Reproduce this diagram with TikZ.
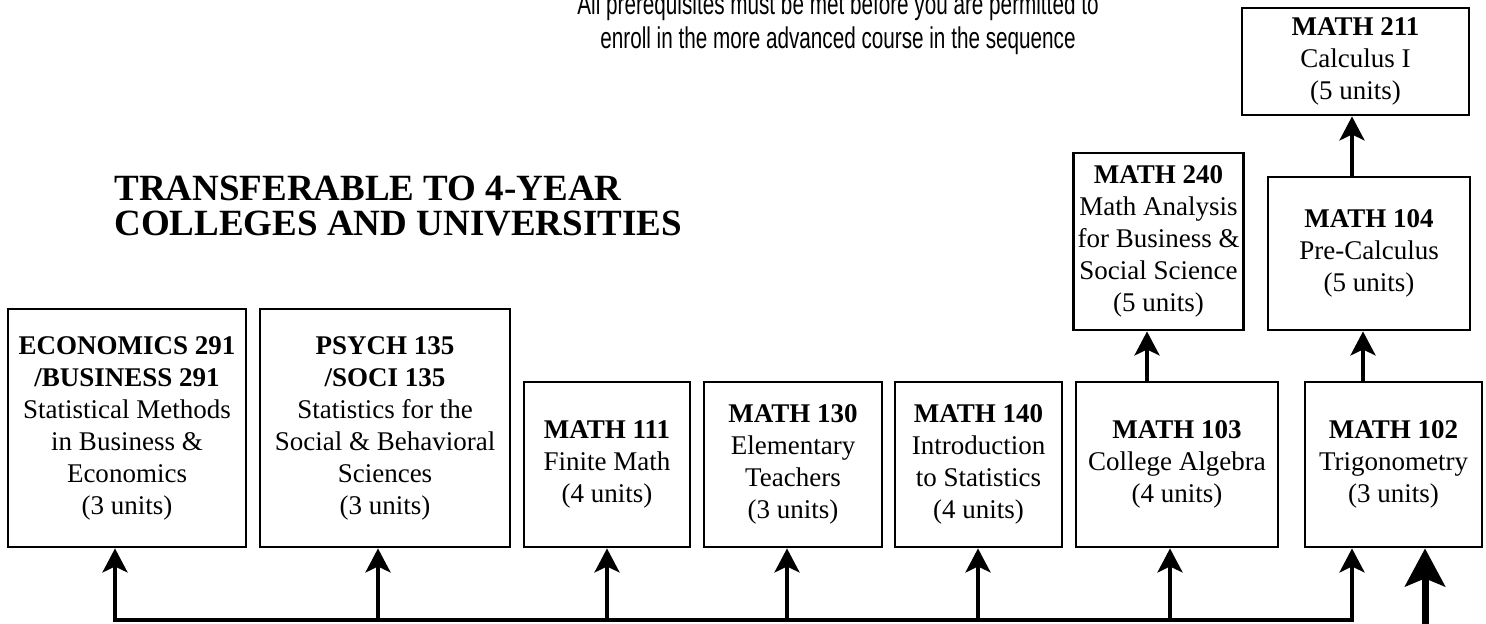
\documentclass[tikz,border=0pt]{standalone}
\usepackage{fontspec}
\setmainfont{Liberation Serif}
\newfontfamily\narrowsans[FakeStretch=0.69]{Liberation Sans}
\usetikzlibrary{positioning,arrows.meta,calc}

\begin{document}
\begin{tikzpicture}[x=0.5pt,y=-0.5pt,
  course/.style={draw,line width=1.4pt,align=center,inner sep=2pt,
    font=\fontsize{13.5}{16}\selectfont},
  up/.style={-{Stealth[length=12pt,width=12.5pt,inset=3pt]},line width=2pt},
  bigup/.style={-{Stealth[length=19pt,width=20pt,inset=4pt]},line width=3.5pt},
  bus/.style={line width=2pt,line cap=rect}]
  \useasboundingbox (0,0) rectangle (1486,623);

  % notes
  \node[anchor=south,align=center,inner sep=0pt,
    font=\narrowsans\fontsize{15}{17}\selectfont]
    (note) at (838,55) {All prerequisites must be met before you are permitted to\\
    enroll in the more advanced course in the sequence};
  \node[anchor=north west,align=left,inner sep=0pt,
    font=\fontsize{18.5}{17.5}\selectfont\bfseries]
    (title) at (114,176) {TRANSFERABLE TO 4-YEAR\\COLLEGES AND UNIVERSITIES};

  % bottom row
  \node[course,minimum width=119pt,minimum height=119pt] (econ) at (127,428)
    {\textbf{ECONOMICS 291}\\\textbf{/BUSINESS 291}\\Statistical Methods\\in Business \&\\Economics\\(3 units)};
  \node[course,minimum width=125pt,minimum height=119pt] (psych) at (385,428)
    {\textbf{PSYCH 135}\\\textbf{/SOCI 135}\\Statistics for the\\Social \& Behavioral\\Sciences\\(3 units)};
  \node[course,minimum width=83pt,minimum height=82.5pt] (m111) at (607,464.5)
    {\textbf{MATH 111}\\Finite Math\\(4 units)};
  \node[course,minimum width=89pt,minimum height=82.5pt] (m130) at (793,464.5)
    {\textbf{MATH 130}\\Elementary\\Teachers\\(3 units)};
  \node[course,minimum width=83.5pt,minimum height=82.5pt] (m140) at (978.5,464.5)
    {\textbf{MATH 140}\\Introduction\\to Statistics\\(4 units)};
  \node[course,minimum width=101pt,minimum height=82.5pt] (m103) at (1177,464.5)
    {\textbf{MATH 103}\\College Algebra\\(4 units)};
  \node[course,minimum width=88.5pt,minimum height=82.5pt] (m102) at (1393.5,464.5)
    {\textbf{MATH 102}\\Trigonometry\\(3 units)};

  % upper courses
  \node[course,minimum width=71.5pt,minimum height=88.5pt] (m240) at (1158.5,241.5)
    {\textbf{MATH 240}\\Math Analysis\\for Business \&\\Social Science\\(5 units)};
  \node[course,minimum width=101pt,minimum height=76.5pt] (m104) at (1369,253.5)
    {\textbf{MATH 104}\\Pre-Calculus\\(5 units)};
  \node[course,minimum width=113.5pt,minimum height=53.5pt] (m211) at (1355.5,61.5)
    {\textbf{MATH 211}\\Calculus I\\(5 units)};

  % common line under the row
  \coordinate (b1) at (115,620);
  \coordinate (b2) at (378,620);
  \coordinate (b3) at (607,620);
  \coordinate (b4) at (787,620);
  \coordinate (b5) at (978,620);
  \coordinate (b6) at (1170,620);
  \coordinate (b7) at (1352,620);
  \draw[bus] (b1) -- (b7);
  \draw[up] (b1) -- (b1 |- econ.south);
  \draw[up] (b2) -- (b2 |- psych.south);
  \draw[up] (b3) -- (b3 |- m111.south);
  \draw[up] (b4) -- (b4 |- m130.south);
  \draw[up] (b5) -- (b5 |- m140.south);
  \draw[up] (b6) -- (b6 |- m103.south);
  \draw[up] (b7) -- (b7 |- m102.south);

  % sequence arrows
  \draw[up] ([xshift=-15pt]m103.north) -- ([xshift=-15pt]m103.north |- m240.south);
  \draw[up] ([xshift=-15.25pt]m102.north) -- ([xshift=-15.25pt]m102.north |- m104.south);
  \draw[up] ([xshift=-8.5pt]m104.north) -- ([xshift=-8.5pt]m104.north |- m211.south);
  \coordinate (entry) at (1425,640);
  \draw[bigup] (entry) -- (entry |- m102.south);
\end{tikzpicture}
\end{document}
